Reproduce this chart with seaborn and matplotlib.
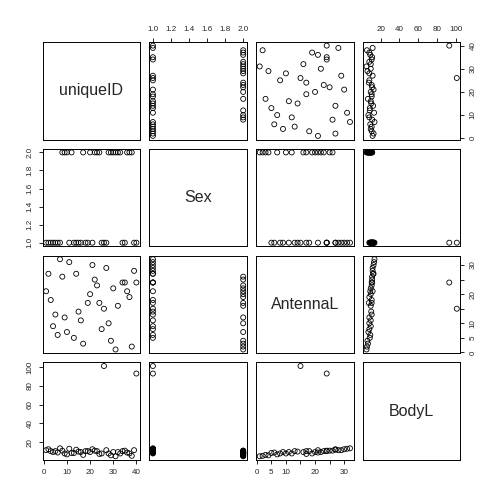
import numpy as np
import pandas as pd
import seaborn as sns
import matplotlib.pyplot as plt

# data (NaN = missing AntennaL)
unique_id = [1, 2, 3, 4, 5, 6, 7, 8, 9, 10, 11, 12, 13, 14, 15, 16, 17, 18, 19, 20,
             21, 22, 23, 24, 25, 26, 27, 28, 29, 30, 31, 32, 33, 34, 35, 36, 37, 38, 39, 40]
sex = [1, 1, 1, 1, 1, 1, 1, 2, 2, 2, 1, 2, 1, 1, 1, 1, 2, 1, 1, 2,
       1, 2, 2, 2, 1, 1, 1, 2, 2, 2, 2, 2, 2, 1, 1, 2, 2, 2, 1, 1]
antenna_l = [21, 27, 18, 9, 13, 6, 32, 26, 12, 7, 31, np.nan, 5, 27, 14, 11, 3, np.nan, 17, 20,
             30, 25, 23, 17, 8, 15, 29, 10, 4, 22, 1, 16, np.nan, 24, 24, 21, 19, 2, 28, 24]
body_l = [11.5, 12.5, 10.5, 9.5, 10.5, 9.0, 13.5, 11.0, 8.0, 7.0, 13.0, 8.5, 8.5, 12.0, 10.0, 9.5, 6.5, 10.5, 10.5, 9.5,
          12.5, 11.0, 10.5, 7.5, 8.0, 101.0, 11.5, 8.0, 6.0, 9.5, 5.0, 9.5, 8.0, 10.5, 11.0, 9.0, 8.0, 5.5, 11.5, 93.0]

df = pd.DataFrame({"uniqueID": unique_id, "Sex": sex, "AntennaL": antenna_l, "BodyL": body_l})
cols = ["uniqueID", "Sex", "AntennaL", "BodyL"]

# tick positions / labels per variable (R drops overlapping labels)
ticks = {
    "uniqueID": ([0, 10, 20, 30, 40], ["0", "10", "20", "30", "40"]),
    "Sex": ([1.0, 1.2, 1.4, 1.6, 1.8, 2.0], ["1.0", "1.2", "1.4", "1.6", "1.8", "2.0"]),
    "AntennaL": ([0, 5, 10, 15, 20, 25, 30], ["0", "5", "10", "", "20", "", "30"]),
    "BodyL": ([20, 40, 60, 80, 100], ["20", "40", "60", "80", "100"]),
}


def rlim(v):
    v = pd.Series(v).dropna()
    lo, hi = v.min(), v.max()
    pad = 0.04 * (hi - lo)
    return lo - pad, hi + pad


sns.set_style("white")
plt.rcParams["font.family"] = ["Liberation Sans", "DejaVu Sans"]

fig = plt.figure(figsize=(5.04, 5.04), dpi=100)
left, top, size, pitch = 42.5 / 504, 42.0 / 504, 97.5 / 504, 106.8 / 504
n = len(cols)

for i, yv in enumerate(cols):
    for j, xv in enumerate(cols):
        ax = fig.add_axes([left + j * pitch, 1 - top - i * pitch - size, size, size])
        for s in ax.spines.values():
            s.set_color("black")
            s.set_linewidth(0.7)
        ax.set_xlim(rlim(df[xv]))
        ax.set_ylim(rlim(df[yv]))
        if i == j:
            ax.text(0.5, 0.5, xv, transform=ax.transAxes, ha="center", va="center", fontsize=11.5)
        else:
            sns.scatterplot(data=df, x=xv, y=yv, ax=ax, marker="o", s=13,
                            facecolor="none", edgecolor="black", linewidth=0.6)
        ax.set_xlabel("")
        ax.set_ylabel("")
        ax.tick_params(length=3, width=0.6, labelsize=5.8, pad=3.5, color="black")
        # x axis: bottom on even cols in last row, top on odd cols in first row
        xt, xl = ticks[xv]
        yt, yl = ticks[yv]
        ax.set_xticks([])
        ax.set_yticks([])
        if i == 0 and j % 2 == 1:
            ax.set_xticks(xt, xl)
            ax.xaxis.tick_top()
        if i == n - 1 and j % 2 == 0:
            ax.set_xticks(xt, xl)
            ax.xaxis.tick_bottom()
        if j == 0 and i % 2 == 1:
            ax.set_yticks(yt, yl, rotation=90, va="center")
            ax.yaxis.tick_left()
        if j == n - 1 and i % 2 == 0:
            ax.set_yticks(yt, yl, rotation=90, va="center")
            ax.yaxis.tick_right()

fig.savefig("out.png", dpi=100)
